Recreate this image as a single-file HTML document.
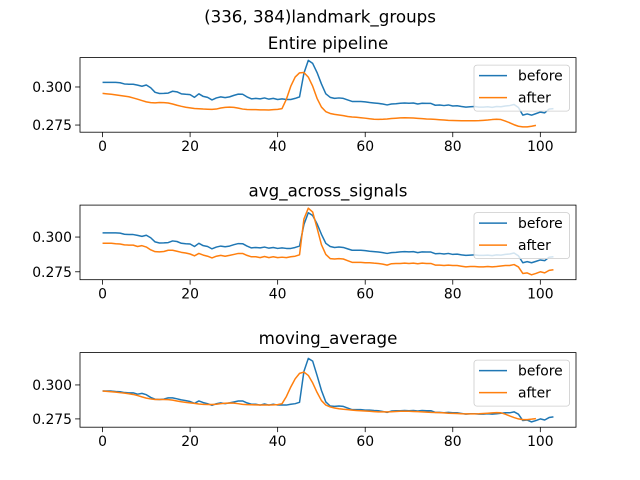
<!DOCTYPE html>
<html><head><meta charset="utf-8"><style>
html,body{margin:0;padding:0;background:#fff;}
svg{display:block;font-family:"DejaVu Sans","Liberation Sans",sans-serif;}
</style></head><body>
<svg id="chart" width="640" height="480" viewBox="0 0 640 480" xmlns="http://www.w3.org/2000/svg">
<rect width="640" height="480" fill="#fff"/>
<text x="320" y="22.5" font-size="16.7" text-anchor="middle" fill="#000">(336, 384)landmark_groups</text>
</svg>
<script>
const before1 = [0.303,0.303,0.303,0.303,0.3028,0.302,0.3018,0.3018,0.3012,0.3005,
0.3013,0.2995,0.2965,0.2957,0.2958,0.296,0.2972,0.2968,0.2955,0.2952,
0.295,0.2932,0.2955,0.2938,0.2932,0.2915,0.2928,0.2935,0.293,0.2935,
0.2945,0.2953,0.2952,0.2935,0.2922,0.2925,0.2922,0.2928,0.292,0.2925,
0.2918,0.2922,0.2918,0.2918,0.2925,0.2935,0.309,0.3175,0.3155,0.3095,
0.302,0.2955,0.2932,0.2925,0.2928,0.2925,0.2915,0.2905,0.2905,0.2905,
0.2902,0.2898,0.2895,0.2892,0.2888,0.2882,0.2888,0.289,0.2893,0.2895,
0.2893,0.2895,0.2888,0.2893,0.2892,0.2892,0.288,0.2882,0.2878,0.2882,
0.2875,0.2877,0.2872,0.2868,0.287,0.2872,0.2868,0.2868,0.287,0.2866,
0.2872,0.287,0.2875,0.2878,0.2885,0.2865,0.2815,0.2823,0.2815,0.2825,
0.2835,0.283,0.2855,0.2858];
const after1 = [0.2958,0.2955,0.2952,0.2948,0.2944,0.294,0.2936,0.2928,0.292,0.2911,
0.2902,0.2897,0.2896,0.2898,0.2897,0.2895,0.2888,0.288,0.2873,0.2867,
0.2863,0.2859,0.2857,0.2855,0.2854,0.2853,0.2855,0.2862,0.2866,0.2868,
0.2866,0.2861,0.2855,0.2852,0.2851,0.2851,0.285,0.285,0.2849,0.2851,
0.2853,0.2858,0.292,0.3005,0.3065,0.3093,0.3095,0.3065,0.3005,0.2925,
0.2868,0.2838,0.2826,0.282,0.2816,0.2812,0.2806,0.2803,0.2801,0.2798,
0.2795,0.2791,0.2788,0.2787,0.2788,0.279,0.2793,0.2795,0.2797,0.2798,
0.2797,0.2796,0.2794,0.2792,0.279,0.2789,0.2787,0.2785,0.2783,0.2781,
0.278,0.2779,0.2778,0.2778,0.2778,0.2778,0.2779,0.2781,0.2783,0.2786,
0.2788,0.2786,0.2776,0.2765,0.2752,0.2742,0.2738,0.2738,0.2742,0.2748];
const before2 = before1;
const after2 = [0.2955,0.2955,0.2955,0.2952,0.295,0.2944,0.2942,0.2942,0.2932,0.2938,
0.2928,0.2908,0.2895,0.2893,0.2896,0.2905,0.2905,0.2898,0.289,0.2885,
0.2878,0.2865,0.2882,0.287,0.2862,0.285,0.2862,0.2868,0.2862,0.2868,
0.2875,0.2882,0.2882,0.2868,0.2858,0.2858,0.2852,0.286,0.2852,0.2858,
0.2852,0.2855,0.2852,0.2858,0.2862,0.2872,0.313,0.3208,0.318,0.3065,
0.2945,0.2875,0.2845,0.2842,0.2845,0.2842,0.283,0.2818,0.2818,0.2818,
0.2815,0.2815,0.2812,0.281,0.2805,0.2798,0.2808,0.281,0.281,0.2812,
0.281,0.2812,0.2808,0.2812,0.281,0.281,0.2798,0.2798,0.2795,0.2798,
0.2795,0.2795,0.279,0.2785,0.2788,0.2788,0.2785,0.2785,0.2788,0.2785,
0.2788,0.2792,0.2795,0.2795,0.2802,0.2785,0.2738,0.2742,0.2728,0.2738,
0.275,0.2742,0.276,0.2765];
const before3 = [0.2955,0.2955,0.2955,0.2952,0.295,0.2944,0.2942,0.2942,0.2932,0.2938,
0.2928,0.2908,0.2895,0.2893,0.2896,0.2905,0.2905,0.2898,0.289,0.2885,
0.2878,0.2865,0.2882,0.287,0.2862,0.285,0.2862,0.2868,0.2862,0.2868,
0.2875,0.2882,0.2882,0.2868,0.2858,0.2858,0.2852,0.286,0.2852,0.2858,
0.2852,0.2852,0.2852,0.2858,0.2862,0.2872,0.31,0.3195,0.3175,0.307,
0.296,0.2875,0.2845,0.2842,0.2845,0.2842,0.283,0.2818,0.2818,0.2818,
0.2815,0.2815,0.2812,0.281,0.2805,0.2798,0.2808,0.281,0.281,0.2812,
0.281,0.2812,0.2808,0.2812,0.281,0.281,0.2798,0.2798,0.2795,0.2798,
0.2795,0.2795,0.279,0.2785,0.2788,0.2788,0.2785,0.2785,0.2788,0.2785,
0.2788,0.2792,0.2795,0.2795,0.2802,0.2785,0.2738,0.2742,0.2728,0.2738,
0.275,0.2742,0.276,0.2765];
const after3 = [0.2955,0.2953,0.295,0.2947,0.2943,0.294,0.2935,0.293,0.2922,0.2912,
0.2903,0.2897,0.2893,0.2893,0.2893,0.2892,0.2888,0.2882,0.2876,0.2872,
0.2868,0.2864,0.286,0.2857,0.2856,0.2856,0.2858,0.2862,0.2865,0.2867,
0.2866,0.2862,0.2857,0.2855,0.2854,0.2853,0.2852,0.2852,0.2852,0.2853,
0.2855,0.2862,0.2915,0.2985,0.3045,0.3085,0.3095,0.307,0.3015,0.2945,
0.2885,0.2852,0.2838,0.283,0.2825,0.2821,0.2818,0.2815,0.2812,0.281,
0.2808,0.2806,0.2804,0.2802,0.2802,0.2802,0.2803,0.2805,0.2806,0.2806,
0.2806,0.2805,0.2804,0.2802,0.28,0.2798,0.2797,0.2796,0.2794,0.2792,
0.2791,0.279,0.2788,0.2787,0.2787,0.2787,0.2788,0.279,0.2792,0.2794,
0.2796,0.2795,0.2785,0.2772,0.276,0.275,0.2745,0.2745,0.2748,0.2752];
const titles = ["Entire pipeline","avg_across_signals","moving_average"];
const xTicks = [0,20,40,60,80,100];
const yTicks = [0.300,0.275];
const yTickLabels = ["0.300","0.275"];
const seriesNames = ["before","after"];

const svg = document.getElementById('chart');
const NS = 'http://www.w3.org/2000/svg';
function mk(tag, attrs){const e=document.createElementNS(NS,tag);for(const k in attrs)e.setAttribute(k,attrs[k]);return e;}
const panels = [
 {top:57.6,bottom:132.2,ymin:0.2703,ymax:0.3193,b:before1,a:after1,key:'pipeline'},
 {top:205.1,bottom:279.7,ymin:0.2693,ymax:0.3230,b:before2,a:after2,key:'avg'},
 {top:352.6,bottom:427.2,ymin:0.2689,ymax:0.3238,b:before3,a:after3,key:'moving'}
];
const L=80,R=576,XMIN=-5.15,XMAX=108.15;
const colors=['#1f77b4','#ff7f0e'];
panels.forEach((p,pi)=>{
  const g=mk('g',{});
  
  
  svg.appendChild(g);
  const xs=v=>L+(v-XMIN)/(XMAX-XMIN)*(R-L);
  const ys=v=>p.bottom-(v-p.ymin)/(p.ymax-p.ymin)*(p.bottom-p.top);
  const clipId='clip'+pi;
  const cp=mk('clipPath',{id:clipId});cp.appendChild(mk('rect',{x:L,y:p.top,width:R-L,height:p.bottom-p.top}));g.appendChild(cp);
  [p.b,p.a].forEach((arr,si)=>{
    const d=arr.map((v,i)=>(i?'L':'M')+xs(i).toFixed(2)+' '+ys(v).toFixed(2)).join(' ');
    const path=mk('path',{d:d,fill:'none',stroke:colors[si],'stroke-width':1.5,'clip-path':'url(#'+clipId+')','stroke-linejoin':'round'});
    
    
    g.appendChild(path);
  });
  const frame=mk('rect',{x:L,y:p.top,width:R-L,height:p.bottom-p.top,fill:'none',stroke:'#000','stroke-width':0.8});
  
  
  g.appendChild(frame);
  xTicks.forEach(t=>{
    const x=xs(t);
    g.appendChild(mk('line',{x1:x,x2:x,y1:p.bottom,y2:p.bottom+4.9,stroke:'#000','stroke-width':0.8}));
    const tx=mk('text',{x:x,y:p.bottom+19,'font-size':13.9,'text-anchor':'middle',fill:'#000'});
    tx.textContent=String(t);
    
    
    g.appendChild(tx);
  });
  yTicks.forEach((t,ti)=>{
    const y=ys(t);
    g.appendChild(mk('line',{x1:L-4.9,x2:L,y1:y,y2:y,stroke:'#000','stroke-width':0.8}));
    const tx=mk('text',{x:L-8,y:y+5,'font-size':13.9,'text-anchor':'end',fill:'#000'});
    tx.textContent=yTickLabels[ti];
    
    
    g.appendChild(tx);
  });
  const title=mk('text',{x:(L+R)/2,y:p.top-8.5,'font-size':16.7,'text-anchor':'middle',fill:'#000'});
  title.textContent=titles[pi];
  
  
  g.appendChild(title);
  const lg=mk('g',{});
  
  
  g.appendChild(lg);
  lg.appendChild(mk('rect',{x:474,y:p.top+7.5,width:95.5,height:46,rx:3,fill:'#fff','fill-opacity':0.8,stroke:'#ccc','stroke-width':0.8}));
  seriesNames.forEach((n,si)=>{
    const y=p.top+18+si*22;
    lg.appendChild(mk('line',{x1:479,x2:507,y1:y,y2:y,stroke:colors[si],'stroke-width':1.5}));
    const tx=mk('text',{x:518,y:y+5,'font-size':13.9,fill:'#000'});
    tx.textContent=n;
    
    
    lg.appendChild(tx);
  });
});
</script>
</body></html>
